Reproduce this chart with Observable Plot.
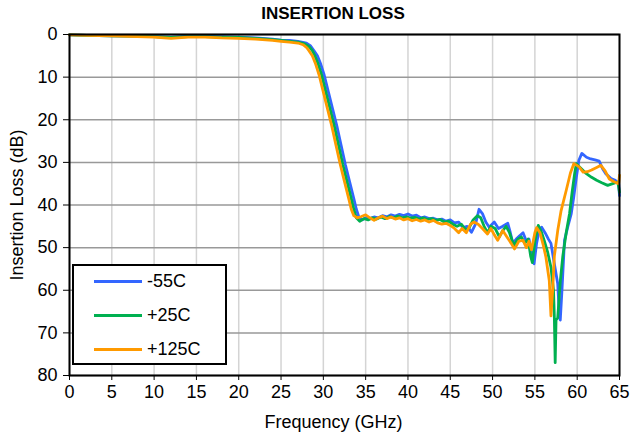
<!DOCTYPE html>
<html><head><meta charset="utf-8">
<script src="https://cdn.jsdelivr.net/npm/d3@7"></script>
<script src="https://cdn.jsdelivr.net/npm/@observablehq/plot@0.6"></script>
<style>
body{margin:0;background:#fff;font-family:"Liberation Sans",Arial,sans-serif;}
#wrap{position:relative;width:631px;height:440px;overflow:hidden;}
#title{height:28px;line-height:28px;font-weight:bold;font-size:17px;text-align:center;padding-left:35px;box-sizing:border-box;width:631px;color:#000;}
#legend{position:absolute;left:72px;top:264px;width:155px;height:101px;border:2px solid #000;box-sizing:border-box;background:#fff;}
.row{position:absolute;left:0;width:150px;height:20px;}
.sw{position:absolute;left:20px;top:8.5px;width:48px;height:3px;}
.lb{position:absolute;left:73px;top:0;font-size:18px;line-height:20px;color:#000;}
svg{display:block;}
</style>
</head><body>
<div id="wrap">
<div id="title">INSERTION LOSS</div>
<div id="chart"></div>
<div id="legend"></div>
</div>
<script>
const seriesNames = ["-55C", "+25C", "+125C"];
const seriesColors = ["#3366ff", "#00b050", "#ff9a00"];
const xTicks = [0,5,10,15,20,25,30,35,40,45,50,55,60,65];
const yTicks = [0,10,20,30,40,50,60,70,80];

const f55 = [0,2,5,8,10,12,14,16,18,20,22,24,25,26,27,28,28.5,28.9,29.3,29.7,30.1,30.6,31.1,31.6,32.1,32.6,33.1,33.6,33.9,34.2,34.6,35,35.5,36,36.5,37,37.5,38,38.5,39,39.5,40,40.5,41,41.5,42,42.5,43,43.5,44,44.5,45,45.5,46,46.5,47,47.5,48,48.4,48.8,49.2,49.6,50.2,50.7,51.2,51.8,52.1,52.4,52.8,53.2,53.6,54,54.3,54.6,54.9,55.2,55.5,55.8,56.2,56.6,56.9,57.3,57.7,57.9,58,58.2,58.5,58.9,59.3,59.6,59.9,60.2,60.55,61.1,61.6,62.1,62.6,63,63.4,64,64.5,64.9,65];
const l55 = [0.1,0.2,0.3,0.4,0.5,0.6,0.4,0.4,0.5,0.6,0.8,1.1,1.3,1.4,1.6,2.0,2.7,3.8,5,7,9.5,13.5,17.5,21.5,26,30.5,34.5,38.5,41,42.8,43.5,43,43.2,42.8,43,42.5,42.8,42.3,42.6,42.2,42.5,42.1,42.6,42.4,43,42.8,43.2,43.1,43.5,43.3,43.8,43.5,44.2,44,45.3,45,46.4,44.4,41,42,44,45.2,44,45.5,45,44.3,46.5,49,48,47.2,46.5,48.5,48,51,53.8,49,46,45.2,46.5,48,49,53.8,58.5,66,67,60,48.3,45,42,38,33.5,29.5,27.9,28.8,29.2,29.4,29.7,31.5,32.7,33.8,34.2,35,37.8];

const f25 = [0,2,5,8,10,12,14,16,18,20,22,24,25,26,27,27.8,28.3,28.7,29,29.4,29.8,30.3,30.8,31.3,31.8,32.3,32.8,33.3,33.6,33.9,34.3,34.8,35.3,35.8,36.3,36.8,37.3,37.8,38.3,38.8,39.3,39.8,40.3,40.8,41.3,41.8,42.3,42.8,43.3,43.8,44.3,44.8,45.3,45.8,46.3,46.8,47.2,47.7,48.2,48.6,49,49.4,49.8,50.3,50.8,51.2,51.6,52,52.5,53,53.4,53.8,54.2,54.5,54.7,55,55.4,55.8,56.1,56.5,56.9,57.2,57.3,57.4,57.5,57.7,58,58.3,58.7,59.1,59.4,59.7,59.9,60.4,61,61.7,62.3,62.9,63.6,64.2,64.8,65];
const l25 = [0.1,0.2,0.3,0.4,0.5,0.7,0.5,0.5,0.6,0.7,0.9,1.2,1.4,1.6,1.8,2.2,2.8,3.8,5,7,9.5,13.5,17.5,21.5,26,30.5,34.5,38.5,41,43,43.8,43.2,43.5,43,43.3,42.8,43.2,42.7,43,42.6,43,42.8,43.1,42.9,43.3,43,43.4,43.2,43.6,43.4,44,43.8,44.5,45,44.5,45.8,45.5,43.5,42.5,43,45,46.5,45,45.5,47.5,46,45,46.5,49.5,48,47.5,49,48,52,53.5,48.5,44.8,46.5,48.3,51,54.6,60,66.3,77,67,66.5,58,52,46.5,42,37,32.6,30.3,31.3,32.5,33.5,34.2,34.8,35.4,35,34.6,37];

const f125 = [0,2,5,8,10,12,14,16,18,20,22,24,25,26,27,27.6,28,28.3,28.7,29.1,29.5,30,30.5,31,31.5,32,32.5,33,33.3,33.6,34,34.5,35,35.5,36,36.5,37,37.5,38,38.5,39,39.5,40,40.5,41,41.5,42,42.5,43,43.5,44,44.5,45,45.5,46,46.4,46.9,47.4,47.8,48.3,48.8,49.4,49.8,50.2,50.6,51.2,51.7,52.2,52.6,53.1,53.6,54,54.3,54.6,55,55.2,55.6,56,56.3,56.7,56.9,57.1,57.3,57.7,58.1,58.7,59.2,59.6,60.2,60.7,61.2,61.7,62.3,62.8,63.3,63.8,64.3,64.9,65];
const l125 = [0.1,0.2,0.3,0.5,0.6,0.9,0.6,0.6,0.8,0.9,1.1,1.4,1.6,1.8,2.0,2.4,3.0,3.8,5,7,9.5,13.5,17.5,21.5,26,30.5,34.5,38.5,41,42.5,43,42.7,42.3,43,43.6,43,42.6,43.2,42.8,43.3,43,43.5,43.2,43.7,43.4,43.8,43.5,44,43.6,44.2,44.5,44.3,44.8,45.5,46.5,45.5,46.5,44.5,44,44.5,45.5,46.8,45.5,47,48.3,46,47.5,49,50.3,48.5,48.3,50,48.5,50.5,46.5,45.3,46.5,49.5,52.2,57.7,66,60,52,46,41.3,36.6,32.5,30.3,31,32.3,32.2,31.8,31.2,30.7,32,33.9,34.5,35,33];

const freqs = [f55, f25, f125];
const losses = [l55, l25, l125];
const data = seriesNames.flatMap((s, i) => freqs[i].map((f, j) => ({series: s, f, loss: losses[i][j]})));

const plot = Plot.plot({
  width: 631, height: 412,
  marginTop: 6, marginBottom: 65, marginLeft: 69, marginRight: 12,
  style: {fontFamily: "'Liberation Sans', Arial, sans-serif", fontSize: "15px", color: "#000", background: "#fff", overflow: "visible"},
  x: {domain: [0, 65]},
  y: {domain: [0, 80], reverse: true},
  color: {domain: seriesNames, range: seriesColors},
  marks: [
    Plot.gridX(xTicks, {stroke: "#d4d4d4", strokeOpacity: 1, strokeWidth: 1.5}),
    Plot.gridY(yTicks, {stroke: "#999999", strokeOpacity: 1, strokeWidth: 1.5}),
    Plot.line(data, {x: "f", y: "loss", z: "series", stroke: "series", strokeWidth: 2.8, strokeLinejoin: "round", curve: "linear"}),
    Plot.frame({stroke: "#000", strokeWidth: 2}),
    Plot.axisX(xTicks, {tickSize: 5, tickPadding: 5, stroke: "#000", label: "Frequency (GHz)", labelAnchor: "center", labelArrow: "none", labelOffset: 52, fontSize: 15}),
    Plot.axisY(yTicks, {tickSize: 6, tickPadding: 6, stroke: "#000", label: "Insertion Loss (dB)", labelAnchor: "center", labelArrow: "none", labelOffset: 59, fontSize: 15})
  ]
});
// enlarge axis titles; nudge the x title to match the reference centring
plot.querySelectorAll("[aria-label$='label'] text").forEach(t => t.setAttribute("font-size", "18"));
plot.querySelectorAll("[aria-label='x-axis label'] text").forEach(t => t.setAttribute("dx", "-11"));
document.getElementById("chart").appendChild(plot);

const leg = document.getElementById("legend");
seriesNames.forEach((s, i) => {
  const row = document.createElement("div");
  row.className = "row";
  row.style.top = (5 + i * 34) + "px";
  row.innerHTML = `<div class="sw" style="background:${seriesColors[i]}"></div><div class="lb">${s}</div>`;
  leg.appendChild(row);
});
</script>
</body></html>
